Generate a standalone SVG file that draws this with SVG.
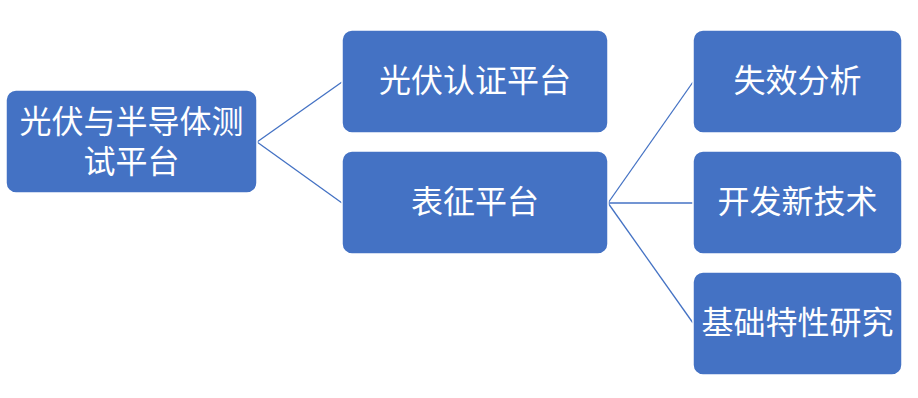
<svg xmlns="http://www.w3.org/2000/svg" width="918" height="398" viewBox="0 0 918 398">
<style>
.box{fill:#4472C4;stroke:#ffffff;stroke-width:1.5}
.t{fill:#ffffff;font-family:"Liberation Sans","Noto Sans CJK SC",sans-serif;font-size:32px;text-anchor:middle;dominant-baseline:central}
.c{stroke:#4472C4;stroke-width:1.3;fill:none}
</style>
<rect width="918" height="398" fill="#ffffff"/>
<g id="connectors">
<line class="c" x1="257" y1="142" x2="342" y2="82"/>
<line class="c" x1="257" y1="142" x2="342" y2="203"/>
<line class="c" x1="608" y1="203" x2="693" y2="82"/>
<line class="c" x1="608" y1="203" x2="693" y2="203"/>
<line class="c" x1="608" y1="203" x2="693" y2="323"/>
</g>
<g id="root">
<rect class="box" x="6" y="90" width="251" height="103" rx="10"/>
<text class="t" x="131.5" y="122">光伏与半导体测</text>
<text class="t" x="131.5" y="162">试平台</text>
</g>
<g id="pv-cert">
<rect class="box" x="342" y="30" width="266" height="103" rx="10"/>
<text class="t" x="475" y="81">光伏认证平台</text>
</g>
<g id="charact">
<rect class="box" x="342" y="151" width="266" height="103" rx="10"/>
<text class="t" x="475" y="202">表征平台</text>
</g>
<g id="failure">
<rect class="box" x="693" y="30" width="209" height="103" rx="10"/>
<text class="t" x="797.5" y="81">失效分析</text>
</g>
<g id="newtech">
<rect class="box" x="693" y="151" width="209" height="103" rx="10"/>
<text class="t" x="797.5" y="202">开发新技术</text>
</g>
<g id="basic">
<rect class="box" x="693" y="272" width="209" height="103" rx="10"/>
<text class="t" x="797.5" y="323">基础特性研究</text>
</g>
</svg>
